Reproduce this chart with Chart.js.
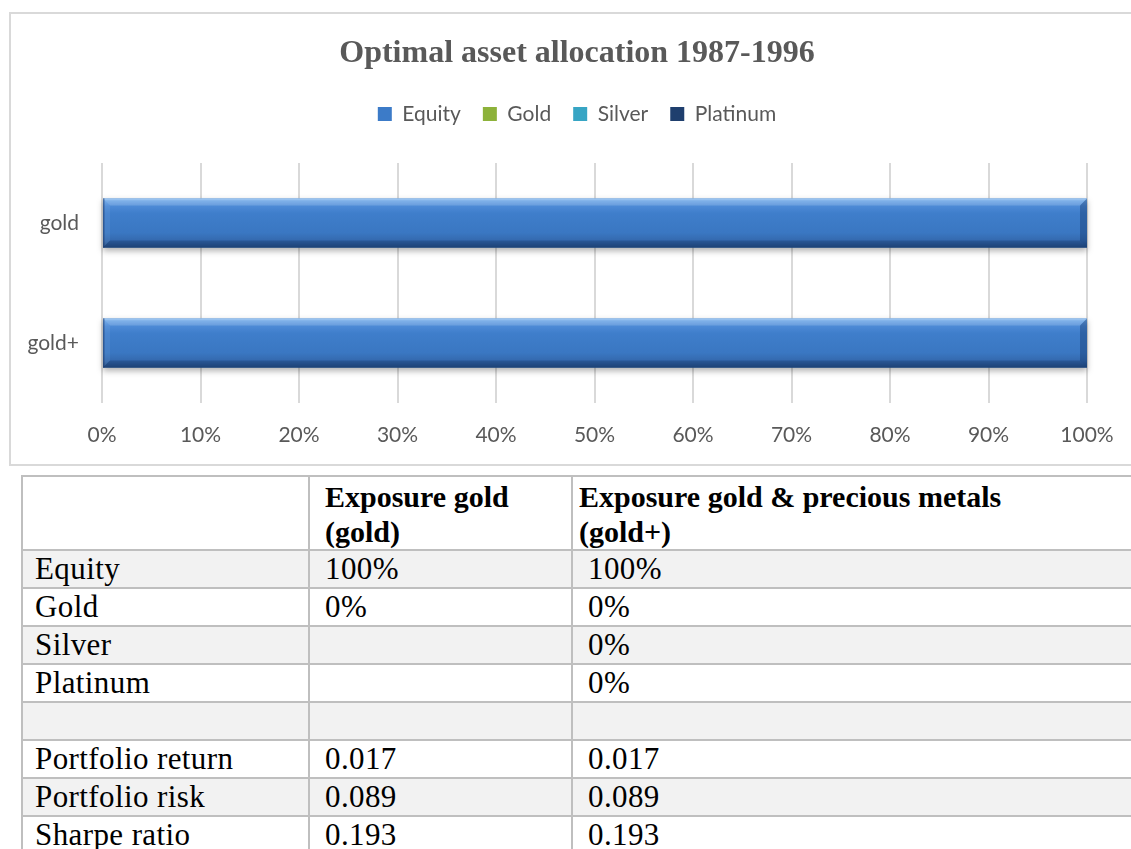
<!DOCTYPE html>
<html>
<head>
<meta charset="utf-8">
<script src="https://cdn.jsdelivr.net/npm/chart.js@4.4.0/dist/chart.umd.min.js"></script>
<style>
    body { margin: 0; width: 1131px; height: 849px; overflow: hidden; background: #fff; position: relative; }
    #chartBox { position: absolute; left: 9px; top: 12px; width: 1140px; height: 450px; border: 2px solid #d9d9d9; }
    #myChart { display: block; }
    #dataTable { position: absolute; left: 21px; top: 475px; border-collapse: collapse; table-layout: fixed; width: 1140px;
        font-family: 'Liberation Serif', 'Times New Roman', serif; font-size: 31px; letter-spacing: 0.4px; color: #000; }
    #dataTable td, #dataTable th { border: 2px solid #bfbfbf; padding: 0 0 0 15px; height: 36px; line-height: 36px;
        text-align: left; vertical-align: middle; white-space: nowrap; overflow: hidden; }
    #dataTable td:first-child { padding-left: 12px; }
    #dataTable th { font-size: 30px; letter-spacing: 0; font-weight: bold; line-height: 35px; vertical-align: top; padding-top: 2px; height: 70px; }
    #dataTable th.narrow { padding-left: 6px; }
    #dataTable tr.shade td { background: #f2f2f2; }
</style>
</head>
<body>
<div id="chartBox"><canvas id="myChart" width="1132" height="450"></canvas></div>
<table id="dataTable">
    <colgroup><col style="width:287px"><col style="width:263px"><col></colgroup>
    <thead></thead>
    <tbody></tbody>
</table>
<script>
// Chart data
const categories = ['gold', 'gold+'];
const seriesNames = ['Equity', 'Gold', 'Silver', 'Platinum'];
const equityShare = [100, 100];
const goldShare = [0, 0];
const silverShare = [0, 0];
const platinumShare = [0, 0];
const seriesColors = ['#3c7bc8', '#8db23a', '#37a5c4', '#1f3f6e'];

// Table data
const tableHeaders = ['', 'Exposure gold<br>(gold)', 'Exposure gold &amp; precious metals<br>(gold+)'];
const rowLabels = ['Equity', 'Gold', 'Silver', 'Platinum', '', 'Portfolio return', 'Portfolio risk', 'Sharpe ratio'];
const colGold = ['100%', '0%', '', '', '', '0.017', '0.089', '0.193'];
const colGoldPlus = ['100%', '0%', '0%', '0%', '', '0.017', '0.089', '0.193'];

const textColor = '#595959';
const labelFont = { family: 'Lato', size: 21 };

// build table
const thead = document.querySelector('#dataTable thead');
const headRow = document.createElement('tr');
tableHeaders.forEach((h, i) => {
    const th = document.createElement('th');
    th.innerHTML = h;
    if (i === 2) th.className = 'narrow';
    headRow.appendChild(th);
});
thead.appendChild(headRow);

const tbody = document.querySelector('#dataTable tbody');
rowLabels.forEach((label, i) => {
    const tr = document.createElement('tr');
    if (i % 2 === 0) tr.className = 'shade';
    [label, colGold[i], colGoldPlus[i]].forEach(v => {
        const td = document.createElement('td');
        td.textContent = v;
        tr.appendChild(td);
    });
    tbody.appendChild(tr);
});

// bevel look for the bars, drawn over the library's bar elements
const bevelPlugin = {
    id: 'bevel',
    afterDatasetsDraw(chart) {
        const ctx = chart.ctx;
        chart.data.datasets.forEach((ds, i) => {
            const meta = chart.getDatasetMeta(i);
            meta.data.forEach(bar => {
                const left = Math.min(bar.base, bar.x);
                const right = Math.max(bar.base, bar.x);
                if (right - left < 2) return;
                const top = bar.y - bar.height / 2;
                const bottom = bar.y + bar.height / 2;
                const b = 7;

                ctx.save();
                ctx.shadowColor = 'rgba(0,0,0,0.3)';
                ctx.shadowBlur = 6;
                ctx.shadowOffsetY = 3;
                const g = ctx.createLinearGradient(0, top, 0, bottom);
                g.addColorStop(0, '#9cc6f2');
                g.addColorStop(0.05, '#6aa4e6');
                g.addColorStop(0.16, '#4d8ad6');
                g.addColorStop(0.3, '#3f7ecb');
                g.addColorStop(0.7, '#3a77c2');
                g.addColorStop(0.86, '#3469ae');
                g.addColorStop(1, '#234c82');
                ctx.fillStyle = g;
                ctx.fillRect(left, top, right - left, bottom - top);
                ctx.restore();

                const facet = (pts, color) => {
                    ctx.beginPath();
                    ctx.moveTo(pts[0][0], pts[0][1]);
                    pts.slice(1).forEach(p => ctx.lineTo(p[0], p[1]));
                    ctx.closePath();
                    ctx.fillStyle = color;
                    ctx.fill();
                };
                ctx.save();
                facet([[left, top], [right, top], [right - b, top + b], [left + b, top + b]], 'rgba(255,255,255,0.14)');
                facet([[right, top], [right, bottom], [right - b, bottom - b], [right - b, top + b]], 'rgba(15,45,95,0.35)');
                facet([[left, bottom], [right, bottom], [right - b, bottom - b], [left + b, bottom - b]], 'rgba(10,35,80,0.25)');
                facet([[left, top], [left + b, top + b], [left + b, bottom - b], [left, bottom]], 'rgba(255,255,255,0.06)');
                ctx.fillStyle = 'rgba(20,50,100,0.5)';
                ctx.fillRect(left, top, 1.5, bottom - top);
                ctx.restore();
            });
        });
    }
};

// extra space under the legend
const legendSpacer = {
    id: 'legendSpacer',
    beforeInit(chart) {
        const originalFit = chart.legend.fit;
        chart.legend.fit = function fit() {
            originalFit.bind(chart.legend)();
            this.height = 81.6;
        };
    }
};

const ctx = document.getElementById('myChart').getContext('2d');
const seriesData = [equityShare, goldShare, silverShare, platinumShare];

const myChart = new Chart(ctx, {
    type: 'bar',
    data: {
        labels: categories,
        datasets: seriesNames.map((name, i) => ({
            label: name,
            data: seriesData[i],
            backgroundColor: seriesColors[i],
            borderWidth: 0,
            barPercentage: 0.41,
            categoryPercentage: 1
        }))
    },
    options: {
        indexAxis: 'y',
        responsive: false,
        animation: false,
        layout: { padding: 0 },
        plugins: {
            title: {
                display: true,
                text: 'Optimal asset allocation 1987-1996',
                color: textColor,
                font: { family: 'Liberation Serif', size: 32, weight: 'bold' },
                padding: { top: 21, bottom: 8 }
            },
            legend: {
                display: true,
                position: 'top',
                labels: {
                    color: textColor,
                    font: labelFont,
                    boxWidth: 14,
                    boxHeight: 14,
                    padding: 22
                }
            },
            tooltip: { enabled: false }
        },
        scales: {
            x: {
                stacked: true,
                min: 0,
                max: 100,
                grid: { color: '#d9d9d9', lineWidth: 2, drawTicks: false },
                border: { display: false },
                ticks: {
                    stepSize: 10,
                    color: textColor,
                    font: labelFont,
                    padding: 20,
                    maxRotation: 0,
                    autoSkip: false,
                    callback: v => v + '%'
                },
                afterFit: scale => { scale.height = 61; }
            },
            y: {
                stacked: true,
                grid: { display: false, drawTicks: false },
                border: { display: false },
                ticks: { color: textColor, font: labelFont, padding: 23 },
                afterFit: scale => { scale.width = 91; }
            },
            // empty right-hand axis, only keeps the plot clear of the right edge
            yRight: {
                type: 'category',
                position: 'right',
                grid: { display: false, drawTicks: false },
                border: { display: false },
                ticks: { display: false },
                afterFit: scale => { scale.width = 56; }
            }
        }
    },
    plugins: [bevelPlugin, legendSpacer]
});
</script>
</body>
</html>
